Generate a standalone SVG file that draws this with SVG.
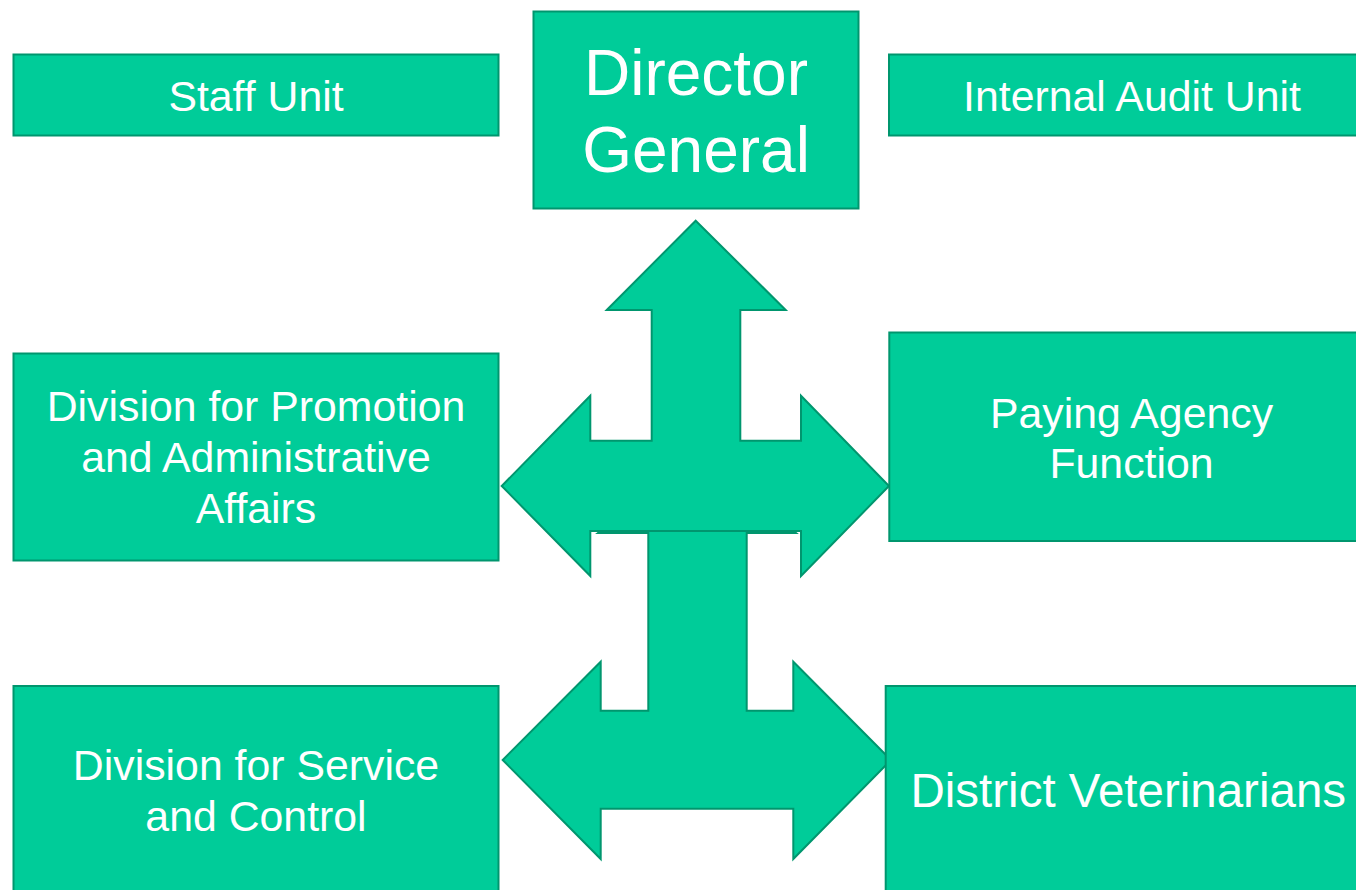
<svg xmlns="http://www.w3.org/2000/svg" width="1356" height="890" viewBox="0 0 1356 890">
<style>
.box{fill:#00cc99;stroke:#00966e;stroke-width:2}
.arr{fill:#00cc99;stroke:#00966e;stroke-width:2;stroke-linejoin:miter}
.t{fill:#ffffff;font-family:"Liberation Sans",Arial,sans-serif;font-size:42.8px;text-anchor:middle}
.big{font-size:64px}
.mid{font-size:47.5px}
</style>
<rect width="1356" height="890" fill="#ffffff"/>
<g id="connectors">
<polygon class="arr" points="697,455 796,533 746.7,533 746.7,710.7 793.3,710.7 793.3,661.7 891,760 793.3,859 793.3,808.7 600.7,808.7 600.7,859 502.7,760 600.7,661.7 600.7,710.7 648.3,710.7 648.3,533 598,533"/>
<polygon class="arr" points="695.7,220.7 785.7,310 740.3,310 740.3,440.7 801,440.7 801,395.7 889,486 801,576 801,531 590.3,531 590.3,576 501.7,486 590.3,395.7 590.3,440.7 651.7,440.7 651.7,310 606.7,310"/>
</g>
<g id="staff-unit">
<rect class="box" x="13.5" y="54.5" width="485" height="81"/>
<text class="t" x="256" y="111">Staff Unit</text>
</g>
<g id="director-general">
<rect class="box" x="533.5" y="11.5" width="325" height="197"/>
<text class="t big" x="696" y="95">Director</text>
<text class="t big" x="696" y="171.5">General</text>
</g>
<g id="internal-audit-unit">
<rect class="box" x="889" y="54.5" width="486" height="81"/>
<text class="t" x="1132" y="111">Internal Audit Unit</text>
</g>
<g id="division-promotion">
<rect class="box" x="13.5" y="353.5" width="485" height="207"/>
<text class="t" x="256" y="421">Division for Promotion</text>
<text class="t" x="256" y="472">and Administrative</text>
<text class="t" x="256" y="523">Affairs</text>
</g>
<g id="paying-agency">
<rect class="box" x="889.3" y="332.5" width="486" height="208.5"/>
<text class="t" x="1131.5" y="428">Paying Agency</text>
<text class="t" x="1131.5" y="478">Function</text>
</g>
<g id="division-service">
<rect class="box" x="13.5" y="686" width="485" height="220"/>
<text class="t" x="256" y="780">Division for Service</text>
<text class="t" x="256" y="831">and Control</text>
</g>
<g id="district-veterinarians">
<rect class="box" x="885.7" y="686" width="486" height="220"/>
<text class="t mid" x="1128.3" y="806.5">District Veterinarians</text>
</g>
</svg>
